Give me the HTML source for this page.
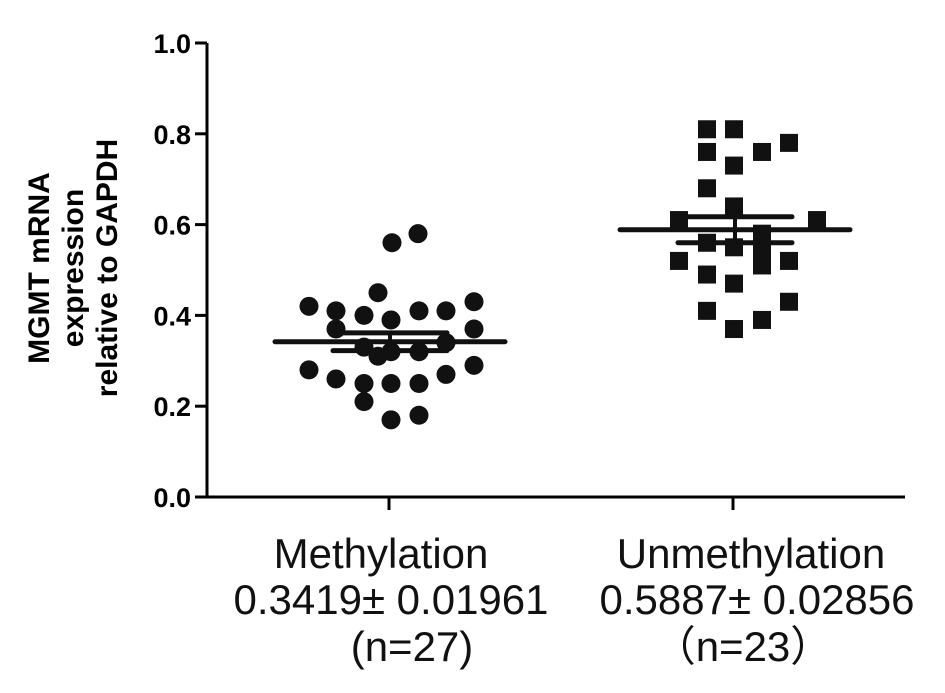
<!DOCTYPE html>
<html><head><meta charset="utf-8"><style>
body{margin:0;background:#fff;}
svg{display:block;font-family:"Liberation Sans","Noto Sans CJK SC",sans-serif;}
</style></head><body>
<svg width="945" height="693" id="c">
<g id="axes"></g><g id="marks"></g>
<g transform="translate(72,268) rotate(-90)" font-weight="bold" font-size="30" text-anchor="middle">
<text y="-23">MGMT mRNA</text><text y="11">expression</text><text y="45">relative to GAPDH</text></g>
<g font-size="42" text-anchor="middle" fill="#111">
<text x="381" y="568">Methylation</text><text x="391" y="614">0.3419± 0.01961</text><text x="412" y="661">(n=27)</text>
<text x="751" y="568">Unmethylation</text><text x="757" y="614">0.5887± 0.02856</text><text x="743" y="661">（n=23）</text>
</g>
</svg>
<script>
const yTicks=[0,0.2,0.4,0.6,0.8,1.0];
const methX=[392,418,309,336,364,378,391,419,446,474,336,474,364,378,391,419,446,309,336,364,391,419,446,474,364,391,419];
const methY=[0.56,0.58,0.42,0.41,0.40,0.45,0.39,0.41,0.41,0.43,0.37,0.37,0.33,0.31,0.32,0.32,0.34,0.28,0.26,0.25,0.25,0.25,0.27,0.29,0.21,0.17,0.18];
const unX=[707,734,707,762,789,734,707,734,679,817,762,707,734,762,679,789,707,734,789,707,762,734,762];
const unY=[0.81,0.81,0.76,0.76,0.78,0.73,0.68,0.64,0.61,0.61,0.58,0.56,0.55,0.51,0.52,0.52,0.49,0.47,0.43,0.41,0.39,0.37,0.54];
const means=[0.3419,0.5887];
const sems=[0.01961,0.02856];
const y=v=>497-v*454;
const NS="http://www.w3.org/2000/svg";
function mk(t,a,p){const e=document.createElementNS(NS,t);for(const k in a)e.setAttribute(k,a[k]);p.appendChild(e);return e;}
const ax=document.getElementById('axes'),mg=document.getElementById('marks');
let e=mk('line',{x1:207,y1:43,x2:207,y2:498,stroke:'#000','stroke-width':3},ax);


e=mk('line',{x1:206,y1:497,x2:905,y2:497,stroke:'#000','stroke-width':3},ax);


[389,733].forEach(x=>{mk('line',{x1:x,y1:497,x2:x,y2:510,stroke:'#000','stroke-width':3},ax);});
yTicks.forEach(v=>{
 mk('line',{x1:195,y1:y(v),x2:207,y2:y(v),stroke:'#000','stroke-width':3},ax);
 const t=mk('text',{x:191,y:y(v)+10,'text-anchor':'end','font-size':27,'font-weight':'bold'},ax);
 t.textContent=v.toFixed(1);
 
 
});
methX.forEach((x,i)=>{const c=mk('circle',{cx:x,cy:y(methY[i]),r:9.5,fill:'#111'},mg);
 
 });
unX.forEach((x,i)=>{const r=mk('rect',{x:x-9,y:y(unY[i])-9,width:18,height:18,fill:'#111'},mg);
 
 });
const cx=[390,735];
means.forEach((m,i)=>{
 let l=mk('line',{x1:cx[i]-115,x2:cx[i]+115,y1:y(m),y2:y(m),stroke:'#111','stroke-width':5,'stroke-linecap':'round'},mg);
 
 
 [m+sems[i],m-sems[i]].forEach(v=>{const s=mk('line',{x1:cx[i]-57,x2:cx[i]+57,y1:y(v),y2:y(v),stroke:'#111','stroke-width':5,'stroke-linecap':'round'},mg);
  
  });
 const b=mk('line',{x1:cx[i],x2:cx[i],y1:y(m+sems[i]),y2:y(m-sems[i]),stroke:'#111','stroke-width':4},mg);
 
 
});
</script>
</body></html>
